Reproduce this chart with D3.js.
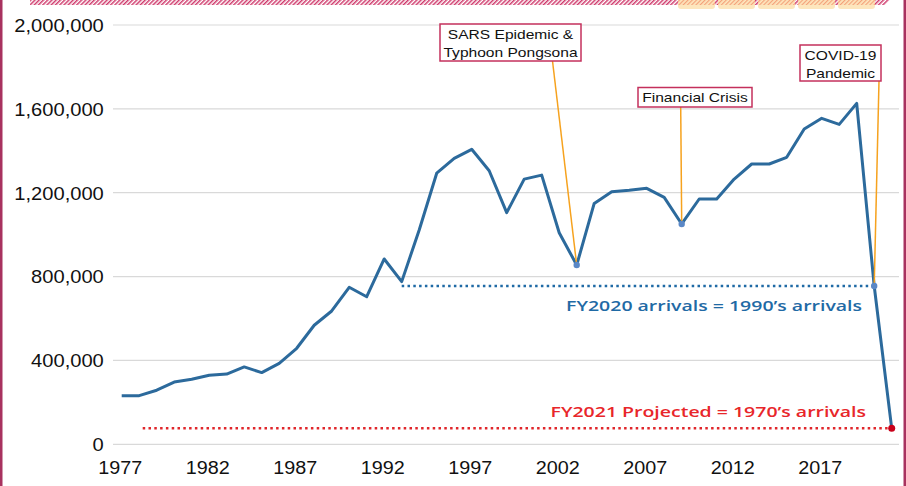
<!DOCTYPE html>
<html>
<head>
<meta charset="utf-8">
<script src="https://cdn.jsdelivr.net/npm/d3@7"></script>
<style>
  html, body { margin: 0; padding: 0; background: #fff; }
  svg { display: block; }
</style>
</head>
<body>
<div class="visualization"></div>
<script>
  'use strict';

  // Visitor arrivals per fiscal year
  var years = d3.range(1977, 2022);
  var arrivals = [
    232000, 232000, 258000, 297000, 310000, 329000, 335000, 369000, 342000, 386000,
    458000, 568000, 636000, 749000, 704000, 884000, 776000, 1022000, 1293000, 1364000,
    1407000, 1305000, 1105000, 1265000, 1284000, 1009000, 855000, 1149000, 1205000, 1212000,
    1221000, 1178000, 1051000, 1170000, 1170000, 1265000, 1337000, 1337000, 1369000, 1504000,
    1555000, 1526000, 1626000, 755000, 76000
  ];

  var yTicks = [0, 400000, 800000, 1200000, 1600000, 2000000];
  var xTicks = [1977, 1982, 1987, 1992, 1997, 2002, 2007, 2012, 2017];

  // Events pointing at a year on the line
  var eventYears  = [2003, 2009, 2020];
  var eventLabels = [['SARS Epidemic &', 'Typhoon Pongsona'], ['Financial Crisis'], ['COVID-19', 'Pandemic']];

  // Comparison lines: start year, end year, level taken from that year's value
  var refStarts = [1993, 1978.2];
  var refEnds   = [2020, 2021];
  var refLevelYears = [2020, 2021];
  var refLabels = ['FY2020 arrivals = 1990\u2019s arrivals', 'FY2021 Projected = 1970\u2019s arrivals'];

  var width = 906,
      height = 486;

  var svg = d3.select('.visualization')
    .append('svg')
    .attr('width', width)
    .attr('height', height);

  var data = years.map(function(yr, i) { return { year: yr, value: arrivals[i] }; });
  var valueOf = function(yr) { return arrivals[years.indexOf(yr)]; };

  var x = d3.scaleLinear().domain([1977, 2021]).range([121.7, 891.7]);
  var y = d3.scaleLinear().domain([0, 2000000]).range([444.3, 25]);

  // ---- page decoration (cropped frame of the original page) ----
  var defs = svg.append('defs');
  defs.append('pattern')
    .attr('id', 'hatch')
    .attr('width', 3).attr('height', 3)
    .attr('patternUnits', 'userSpaceOnUse')
    .attr('patternTransform', 'rotate(45)')
    .append('rect')
    .attr('width', 1.5).attr('height', 3)
    .attr('fill', '#cf3a6c');
  defs.append('pattern')
    .attr('id', 'hatchOrange')
    .attr('width', 3).attr('height', 3)
    .attr('patternUnits', 'userSpaceOnUse')
    .attr('patternTransform', 'rotate(45)')
    .append('rect')
    .attr('width', 1.2).attr('height', 3)
    .attr('fill', '#f4a27a');

  svg.append('path')
    .attr('d', 'M30,0 L890,0 L885,5 L30,5 Z')
    .attr('fill', 'url(#hatch)');

  var tabs = [678, 718, 758, 798, 838];
  tabs.forEach(function(tx) {
    svg.append('rect')
      .attr('x', tx).attr('y', -6)
      .attr('width', 37).attr('height', 15)
      .attr('rx', 3)
      .attr('fill', '#fde6bd');
    svg.append('rect')
      .attr('x', tx).attr('y', 0)
      .attr('width', 37).attr('height', 5)
      .attr('fill', 'url(#hatchOrange)');
  });

  svg.append('rect').attr('x', 0).attr('y', 0).attr('width', 2.5).attr('height', height).attr('fill', '#a8325f');
  svg.append('rect').attr('x', 903.5).attr('y', 0).attr('width', 2.5).attr('height', height).attr('fill', '#a8325f');

  // ---- grid + axes ----
  svg.append('g')
    .selectAll('line')
    .data(yTicks)
    .enter().append('line')
    .attr('x1', 113).attr('x2', 899)
    .attr('y1', function(d) { return y(d); })
    .attr('y2', function(d) { return y(d); })
    .attr('stroke', '#d9d9d9')
    .attr('stroke-width', 1.2);

  var yAxis = svg.append('g')
    .attr('transform', 'translate(113,0)')
    .call(d3.axisLeft(y).tickValues(yTicks).tickSize(0).tickPadding(8).tickFormat(d3.format(',')));
  yAxis.select('.domain').remove();
  yAxis.selectAll('text')
    .attr('font-family', '"Liberation Sans", Arial, sans-serif')
    .attr('font-size', 17.5)
    .attr('fill', '#111')
    .attr('dy', '0.36em')
    .attr('transform', 'scale(1.15,1)');

  var xAxis = svg.append('g')
    .attr('transform', 'translate(-2,' + y(0) + ')')
    .call(d3.axisBottom(x).tickValues(xTicks).tickSize(0).tickPadding(17).tickFormat(d3.format('d')));
  xAxis.select('.domain').remove();
  // stretch each label around its own tick
  xAxis.selectAll('.tick text')
    .attr('font-family', '"Liberation Sans", Arial, sans-serif')
    .attr('font-size', 17.5)
    .attr('fill', '#111')
    .attr('transform', 'scale(1.13,1)');

  // ---- comparison lines ----
  var refColors = ['#1f6aa5', '#e0262b'];
  var refTextColors = ['#1f6aa5', '#e8262a'];
  var refTextY = [311, 417];
  var refTextX = [862, 866];

  refStarts.forEach(function(s, i) {
    var lvl = valueOf(refLevelYears[i]);
    svg.append('line')
      .attr('x1', x(s)).attr('x2', x(refEnds[i]))
      .attr('y1', y(lvl)).attr('y2', y(lvl))
      .attr('stroke', refColors[i])
      .attr('stroke-width', 2.5)
      .attr('stroke-dasharray', '2.5,3.3');
    svg.append('text')
      .attr('x', 0).attr('y', 0)
      .attr('transform', 'translate(' + refTextX[i] + ',' + refTextY[i] + ') scale(1.3,1)')
      .attr('text-anchor', 'end')
      .attr('font-family', '"Open Sans", sans-serif')
      .attr('font-weight', 600)
      .attr('font-size', 15)
      .attr('fill', refTextColors[i])
      .text(refLabels[i]);
  });

  // ---- main line ----
  var line = d3.line()
    .x(function(d) { return x(d.year); })
    .y(function(d) { return y(d.value); });

  svg.append('path')
    .datum(data)
    .attr('fill', 'none')
    .attr('stroke', '#2c6a9c')
    .attr('stroke-width', 3)
    .attr('stroke-linejoin', 'round')
    .attr('d', line);

  // ---- event callouts ----
  // box layout: left, top, width, height, leader start x
  var boxes = [
    { x: 440, y: 24, w: 141, h: 37, lx: 552.5 },
    { x: 638, y: 87.5, w: 114, h: 19.5, lx: 680.7 },
    { x: 800, y: 45, w: 81, h: 36, lx: 879 }
  ];

  eventYears.forEach(function(ey, i) {
    var b = boxes[i];
    svg.append('line')
      .attr('x1', b.lx).attr('y1', b.y + b.h)
      .attr('x2', x(ey)).attr('y2', y(valueOf(ey)))
      .attr('stroke', '#f6a21e')
      .attr('stroke-width', 1.5);
  });

  svg.append('g')
    .selectAll('circle')
    .data(eventYears)
    .enter().append('circle')
    .attr('cx', function(d) { return x(d); })
    .attr('cy', function(d) { return y(valueOf(d)); })
    .attr('r', 3.2)
    .attr('fill', '#5b88c6');

  eventYears.forEach(function(ey, i) {
    var b = boxes[i];
    var g = svg.append('g');
    g.append('rect')
      .attr('x', b.x).attr('y', b.y)
      .attr('width', b.w).attr('height', b.h)
      .attr('fill', '#fff')
      .attr('stroke', '#c4305c')
      .attr('stroke-width', 1.5);
    var cx = b.x + b.w / 2;
    eventLabels[i].forEach(function(t, j) {
      g.append('text')
        .attr('x', 0).attr('y', 0)
        .attr('transform', 'translate(' + cx + ',' + (b.y + 14.5 + j * 18.5) + ') scale(1.18,1)')
        .attr('text-anchor', 'middle')
        .attr('font-family', '"Liberation Sans", Arial, sans-serif')
        .attr('font-size', 13.2)
        .attr('fill', '#111')
        .text(t);
    });
  });

  // end point of the projection
  svg.append('circle')
    .attr('cx', x(2021))
    .attr('cy', y(valueOf(2021)))
    .attr('r', 3.5)
    .attr('fill', '#c8001a');
</script>
</body>
</html>
